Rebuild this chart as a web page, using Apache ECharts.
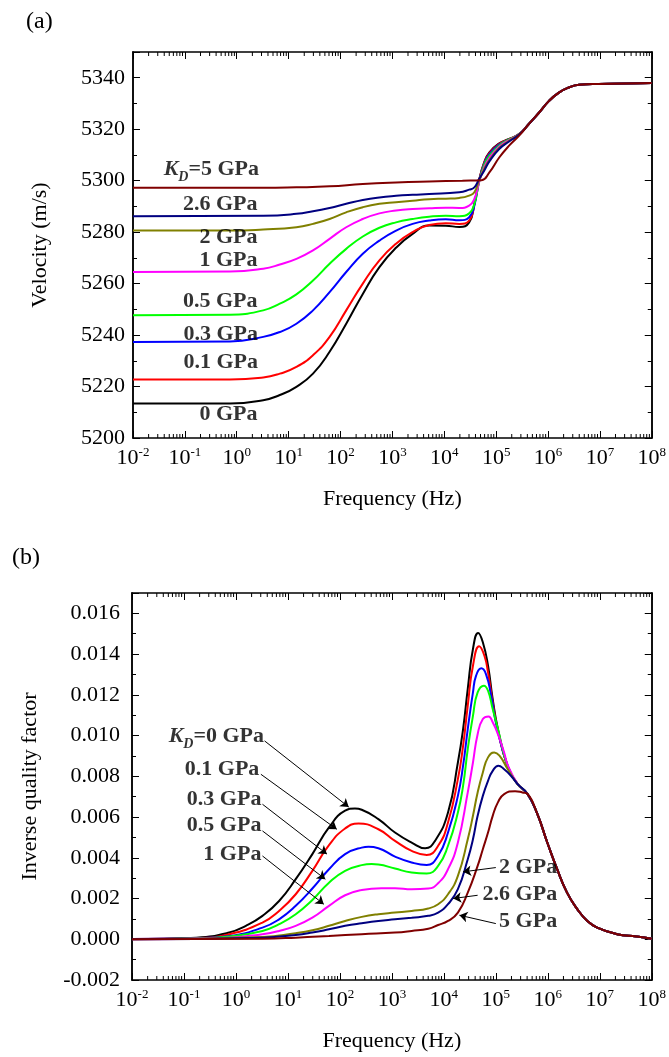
<!DOCTYPE html>
<html>
<head>
<meta charset="utf-8">
<script src="https://cdn.jsdelivr.net/npm/echarts@6/dist/echarts.min.js"></script>
<style>
html, body { margin: 0; padding: 0; background: #fff; }
#chart { width: 669px; height: 1057px; }
</style>
</head>
<body>
<div id="chart"></div>
<script>
// ---- panel (a): velocity (m/s), points are [log10(frequency), value] ----
var velTail = [[5.63, 5322], [5.83, 5326.5], [6.02, 5331], [6.21, 5334.2], [6.40, 5336.2], [6.60, 5337.3], [6.98, 5337.6], [8, 5338]];

var vel0  = [[-2, 5213.4], [-0.13, 5213.4], [0.51, 5214.7], [0.83, 5216.7], [1.15, 5219.9], [1.47, 5225], [1.79, 5233.5],
             [2.11, 5244.4], [2.43, 5256], [2.75, 5266.4], [3.07, 5273.9], [3.39, 5279.3], [3.71, 5282.6], [4.03, 5282.5],
             [4.29, 5282.0], [4.48, 5283.8], [4.58, 5291], [4.67, 5300], [4.77, 5307.1], [4.87, 5311], [5.06, 5314.5],
             [5.25, 5316.2], [5.44, 5318.1]];
var vel01 = [[-2, 5222.7], [-0.13, 5222.7], [0.51, 5223.5], [0.83, 5225], [1.15, 5227.6], [1.47, 5232.2], [1.79, 5239.3],
             [2.11, 5249.6], [2.43, 5260], [2.75, 5269], [3.07, 5275.5], [3.39, 5280], [3.71, 5282.8], [4.03, 5283.5],
             [4.29, 5283.2], [4.48, 5284.5], [4.58, 5290.7], [4.67, 5300], [4.77, 5306.9], [4.87, 5310.7], [5.06, 5314.3],
             [5.25, 5316.1], [5.44, 5318]];
var vel03 = [[-2, 5237.3], [-0.13, 5237.5], [0.51, 5239.3], [0.83, 5241.2], [1.15, 5244.4], [1.47, 5249.6], [1.79, 5256.7],
             [2.11, 5264.5], [2.43, 5271.6], [2.75, 5276.7], [3.07, 5280.6], [3.39, 5283.2], [3.71, 5284.5], [4.03, 5285],
             [4.29, 5284.6], [4.48, 5285.8], [4.58, 5290.3], [4.67, 5299.6], [4.77, 5306.5], [4.87, 5310.3], [5.06, 5314],
             [5.25, 5316], [5.44, 5318]];
var vel05 = [[-2, 5247.7], [-0.13, 5247.9], [0.51, 5249.6], [0.83, 5252.2], [1.15, 5255.8], [1.47, 5261.2], [1.79, 5267.7],
             [2.11, 5273.5], [2.43, 5278.3], [2.75, 5281.7], [3.07, 5283.8], [3.39, 5285.1], [3.71, 5286], [4.03, 5286.4],
             [4.29, 5286.2], [4.48, 5287.3], [4.58, 5291], [4.67, 5299.3], [4.77, 5306.1], [4.87, 5309.7], [5.06, 5313.7],
             [5.25, 5316], [5.44, 5318]];
var vel1  = [[-2, 5264.5], [-0.13, 5264.7], [0.51, 5265.8], [0.83, 5267.4], [1.15, 5269.6], [1.47, 5272.9], [1.79, 5277.4],
             [2.11, 5281.9], [2.43, 5285.1], [2.75, 5287.3], [3.07, 5288.4], [3.39, 5289], [3.71, 5289.3], [4.03, 5289.5],
             [4.29, 5289.4], [4.48, 5290.3], [4.58, 5292.9], [4.67, 5299.3], [4.77, 5305.2], [4.87, 5308.8], [5.06, 5313.2],
             [5.25, 5315.8], [5.44, 5318]];
var vel2  = [[-2, 5280.6], [-0.13, 5280.6], [0.51, 5281], [1.15, 5281.9], [1.47, 5283.2], [1.79, 5285.1], [2.11, 5287.7],
             [2.43, 5289.7], [2.75, 5291], [3.07, 5291.6], [3.39, 5292.2], [3.71, 5292.8], [4.03, 5293], [4.29, 5293.3],
             [4.48, 5294.2], [4.58, 5295.5], [4.67, 5300], [4.77, 5304.5], [4.87, 5308], [5.06, 5312.7], [5.25, 5315.5],
             [5.44, 5318]];
var vel26 = [[-2, 5286.2], [0.51, 5286.4], [1.15, 5287.1], [1.47, 5288.1], [1.79, 5289.4], [2.11, 5291], [2.43, 5292.5],
             [2.75, 5293.5], [3.07, 5294.1], [3.39, 5294.5], [3.71, 5294.8], [4.29, 5295.5], [4.48, 5296.5], [4.58, 5297.4],
             [4.67, 5300.6], [4.77, 5303.9], [4.87, 5307.5], [5.06, 5312.3], [5.25, 5315.2], [5.44, 5317.8]];
var vel5  = [[-2, 5297.2], [0.51, 5297.2], [1.15, 5297.4], [1.79, 5297.8], [2.43, 5298.7], [3.07, 5299.3], [3.71, 5299.7],
             [4.35, 5300], [4.72, 5300.2], [4.87, 5303.2], [5.06, 5309], [5.25, 5313.6], [5.44, 5317.4]];

// ---- panel (b): inverse quality factor, [log10(frequency), value] ----
var qTail = [[5.61, 0.00713], [5.80, 0.00614], [5.99, 0.00475], [6.18, 0.00344], [6.37, 0.00229], [6.57, 0.00147],
             [6.76, 0.00090], [6.95, 0.00057], [7.33, 0.00025], [7.71, 0.00013], [8.0, 0.00003]];

var q0  = [[-2, 0.00001], [-1.4, 0.00003], [-0.76, 0.00008], [-0.13, 0.00033], [0.19, 0.00066], [0.51, 0.00115], [0.83, 0.00188],
           [1.15, 0.00295], [1.47, 0.00418], [1.79, 0.00549], [2.1, 0.00631], [2.29, 0.00642], [2.42, 0.00636], [2.74, 0.0059],
           [3.06, 0.00524], [3.38, 0.00475], [3.64, 0.00447], [3.83, 0.00483], [4.08, 0.00622], [4.27, 0.00868], [4.37, 0.01032],
           [4.46, 0.01229], [4.56, 0.01425], [4.66, 0.01504], [4.75, 0.01458], [4.85, 0.01343], [4.94, 0.01179], [5.04, 0.01032],
           [5.23, 0.00848], [5.42, 0.00762]];
var q01 = [[-2, 0.00001], [-0.76, 0.00006], [-0.13, 0.00025], [0.51, 0.00082], [0.83, 0.00139], [1.15, 0.00221], [1.47, 0.00336],
           [1.79, 0.00462], [2.1, 0.00544], [2.36, 0.00568], [2.74, 0.0054], [3.06, 0.00483], [3.38, 0.00434], [3.67, 0.00414],
           [3.89, 0.00459], [4.08, 0.00573], [4.27, 0.00786], [4.37, 0.0095], [4.46, 0.01147], [4.56, 0.01343], [4.68, 0.01438],
           [4.78, 0.01392], [4.85, 0.0131], [4.94, 0.01163], [5.04, 0.01024], [5.23, 0.00848], [5.42, 0.00762]];
var q03 = [[-2, 0.00001], [-0.76, 0.00005], [-0.13, 0.00016], [0.51, 0.00057], [0.83, 0.00098], [1.15, 0.00164], [1.47, 0.00249],
           [1.79, 0.00344], [2.1, 0.00418], [2.42, 0.0045], [2.55, 0.00454], [2.74, 0.00447], [3.06, 0.00406], [3.38, 0.00377],
           [3.67, 0.00365], [3.89, 0.0041], [4.08, 0.00524], [4.27, 0.00704], [4.37, 0.00852], [4.46, 0.01032], [4.56, 0.01212],
           [4.62, 0.01294], [4.72, 0.0133], [4.81, 0.01302], [4.91, 0.01196], [5.0, 0.01065], [5.23, 0.00848], [5.42, 0.00762]];
var q05 = [[-2, 0.00001], [-0.76, 0.00004], [-0.13, 0.00013], [0.51, 0.00041], [0.83, 0.00074], [1.15, 0.00123], [1.47, 0.00193],
           [1.79, 0.00278], [2.1, 0.00336], [2.42, 0.00364], [2.61, 0.00369], [2.74, 0.00367], [3.06, 0.00347], [3.38, 0.00328],
           [3.67, 0.00323], [3.89, 0.0036], [4.08, 0.00459], [4.27, 0.00622], [4.37, 0.00753], [4.46, 0.00934], [4.56, 0.01097],
           [4.65, 0.01212], [4.77, 0.01245], [4.85, 0.0122], [4.94, 0.0113], [5.04, 0.01032], [5.23, 0.00848], [5.42, 0.00762]];
var q1  = [[-2, 0.0], [-0.13, 0.00008], [0.51, 0.00025], [0.83, 0.00041], [1.15, 0.00066], [1.47, 0.00106], [1.79, 0.00164],
           [2.1, 0.00216], [2.42, 0.00242], [2.8, 0.00251], [3.06, 0.00251], [3.38, 0.00246], [3.7, 0.00249], [3.89, 0.00275],
           [4.08, 0.00344], [4.27, 0.00475], [4.46, 0.00721], [4.56, 0.00868], [4.65, 0.01007], [4.75, 0.01081], [4.86, 0.01094],
           [4.94, 0.01065], [5.04, 0.01007], [5.16, 0.00917], [5.23, 0.00855], [5.42, 0.00762]];
var q2  = [[-2, 0.0], [0.51, 0.00011], [1.15, 0.0003], [1.47, 0.00044], [1.79, 0.00066], [2.1, 0.0009], [2.42, 0.0011],
           [2.74, 0.00123], [3.06, 0.00131], [3.38, 0.00139], [3.7, 0.00151], [3.89, 0.00172], [4.08, 0.00221], [4.27, 0.00311],
           [4.46, 0.00491], [4.56, 0.00606], [4.65, 0.00721], [4.75, 0.00819], [4.85, 0.00893], [4.97, 0.00917], [5.07, 0.00901],
           [5.23, 0.00835], [5.42, 0.00762]];
var q26 = [[-2, 0.0], [0.51, 0.00008], [1.15, 0.00021], [1.47, 0.00033], [1.79, 0.00049], [2.1, 0.00066], [2.42, 0.00079],
           [2.74, 0.0009], [3.06, 0.00098], [3.38, 0.00106], [3.7, 0.00115], [3.89, 0.00131], [4.08, 0.00172], [4.27, 0.00246],
           [4.46, 0.00393], [4.56, 0.00491], [4.65, 0.00606], [4.75, 0.00704], [4.85, 0.00778], [4.94, 0.00827], [5.05, 0.00852],
           [5.16, 0.00835], [5.29, 0.00803], [5.42, 0.00762]];
var q5  = [[-2, 0.0], [0.51, 0.00003], [1.15, 0.00008], [1.79, 0.00016], [2.42, 0.00025], [3.06, 0.00033], [3.38, 0.00041],
           [3.7, 0.00052], [3.89, 0.0007], [4.08, 0.0009], [4.27, 0.00131], [4.46, 0.00229], [4.65, 0.0036], [4.75, 0.00442],
           [4.85, 0.00524], [4.94, 0.00606], [5.04, 0.00672], [5.16, 0.00713], [5.37, 0.00727], [5.51, 0.00721]];

var kdNames = ['0 GPa', '0.1 GPa', '0.3 GPa', '0.5 GPa', '1 GPa', '2 GPa', '2.6 GPa', '5 GPa'];
var colors  = ['#000000', '#ff0000', '#0000ff', '#00ff00', '#ff00ff', '#808000', '#000080', '#800000'];
var velSets = [vel0, vel01, vel03, vel05, vel1, vel2, vel26, vel5];
var qSets   = [q0, q01, q03, q05, q1, q2, q26, q5];

// curve labels: [text, log10(f) of right edge, value]
var notesA = [['K_D=5 GPa', 0.43, 5304.3], ['2.6 GPa', 0.40, 5290.9], ['2 GPa', 0.40, 5278.0], ['1 GPa', 0.40, 5269.0],
              ['0.5 GPa', 0.40, 5253.3], ['0.3 GPa', 0.41, 5240.1], ['0.1 GPa', 0.41, 5229.3], ['0 GPa', 0.40, 5209.1]];
var notesB = [['K_D=0 GPa', 0.54, 0.00995], ['0.1 GPa', 0.45, 0.00835], ['0.3 GPa', 0.49, 0.00688], ['0.5 GPa', 0.49, 0.00558],
              ['1 GPa', 0.49, 0.00418], ['2 GPa', 6.18, 0.00351], ['2.6 GPa', 6.18, 0.00221], ['5 GPa', 6.18, 0.00088]];
// arrows in panel (b): [fromExp, fromQ, toExp, toQ]
var arrowsB = [[0.55, 0.00974, 2.17, 0.00649], [0.48, 0.0081, 1.94, 0.0054], [0.51, 0.00663, 1.75, 0.00418],
               [0.51, 0.00532, 1.72, 0.00295], [0.51, 0.00409, 1.69, 0.00172], [5.00, 0.00352, 4.37, 0.00331],
               [4.65, 0.00216, 4.18, 0.00200], [5.00, 0.00077, 4.30, 0.00118]];

var decades = [-2, -1, 0, 1, 2, 3, 4, 5, 6, 7];
var minorMults = [2, 3, 4, 5, 6, 7, 8, 9];

var FONT = 'Liberation Serif';
var VEL_MIN = 5200, VEL_MAX = 5350;
var Q_MIN = -0.002, Q_MAX = 0.017;

function f10(e) { return Math.pow(10, e); }

var minorFreqs = [];
decades.forEach(function (d) {
  minorMults.forEach(function (m) { minorFreqs.push(m * f10(d)); });
});

function decadeLabel(v) {
  var e = Math.round(Math.log(v) / Math.LN10);
  return '{b|10}{s|' + e + '}';
}

function noteText(s) {
  if (s.indexOf('K_D=') === 0) return '{k|K}{d|D}{b|' + s.slice(3) + '}';
  return '{b|' + s + '}';
}

var noteRich = {
  b: { fontFamily: FONT, fontWeight: 'bold', fontSize: 22, color: '#000' },
  k: { fontFamily: FONT, fontWeight: 'bold', fontStyle: 'italic', fontSize: 22, color: '#000' },
  d: { fontFamily: FONT, fontWeight: 'bold', fontStyle: 'italic', fontSize: 14, color: '#000', padding: [16, 0, 0, 0] }
};

function xAxes(gi) {
  var base = {
    gridIndex: gi, type: 'log', logBase: 10, min: 0.01, max: 1e8, interval: 1,
    splitLine: { show: false },
    axisLine: { onZero: false, lineStyle: { color: '#000', width: 1.5 } },
    axisTick: { inside: true, length: 7, lineStyle: { color: '#000', width: 1 } }
  };
  return [
    Object.assign({}, base, {
      position: 'bottom', name: 'Frequency (Hz)', nameLocation: 'middle', nameGap: 50,
      nameTextStyle: { fontFamily: FONT, fontSize: 22, color: '#000' },
      axisLabel: {
        margin: 8, formatter: decadeLabel,
        rich: {
          b: { fontFamily: FONT, fontSize: 22, color: '#000' },
          s: { fontFamily: FONT, fontSize: 13, color: '#000', padding: [0, 0, 12, 0] }
        }
      }
    }),
    Object.assign({}, base, { position: 'top', axisLabel: { show: false } })
  ];
}

function yAxes(gi, min, max, major, minor, fmt, name, gap, margin) {
  var base = {
    gridIndex: gi, type: 'value', min: min, max: max,
    splitLine: { show: false },
    axisLine: { show: true, onZero: false, lineStyle: { color: '#000', width: 1.5 } }
  };
  var tickMajor = { inside: true, length: 7, lineStyle: { color: '#000', width: 1 } };
  var tickMinor = { inside: true, length: 4, lineStyle: { color: '#000', width: 1 } };
  return [
    Object.assign({}, base, {
      position: 'left', interval: major, axisTick: tickMajor,
      name: name, nameLocation: 'middle', nameGap: gap,
      nameTextStyle: { fontFamily: FONT, fontSize: 22, color: '#000' },
      axisLabel: {
        margin: margin, fontFamily: FONT, fontSize: 22, color: '#000',
        formatter: function (v) { return v > max - major / 2 ? '' : fmt(v); }
      }
    }),
    Object.assign({}, base, { position: 'left', interval: minor, axisTick: tickMinor, axisLabel: { show: false } }),
    Object.assign({}, base, { position: 'right', interval: major, axisTick: tickMajor, axisLabel: { show: false } }),
    Object.assign({}, base, { position: 'right', interval: minor, axisTick: tickMinor, axisLabel: { show: false } })
  ];
}

function minorTickSeries(xi, yi, lo, hi) {
  return {
    type: 'custom', xAxisIndex: xi, yAxisIndex: yi, silent: true, clip: false, z: 10,
    data: minorFreqs.map(function (f) { return [f, lo]; }),
    renderItem: function (params, api) {
      var p = api.coord([api.value(0), lo]);
      var q = api.coord([api.value(0), hi]);
      return {
        type: 'group', children: [
          { type: 'line', shape: { x1: p[0], y1: p[1], x2: p[0], y2: p[1] - 4 }, style: { stroke: '#000', lineWidth: 1 } },
          { type: 'line', shape: { x1: q[0], y1: q[1], x2: q[0], y2: q[1] + 4 }, style: { stroke: '#000', lineWidth: 1 } }
        ]
      };
    }
  };
}

function noteSeries(xi, yi, notes) {
  return {
    type: 'scatter', xAxisIndex: xi, yAxisIndex: yi, silent: true, symbolSize: 0, z: 20,
    data: notes.map(function (n) {
      return { value: [f10(n[1]), n[2]], label: { formatter: noteText(n[0]) } };
    }),
    label: { show: true, position: 'left', distance: 0, rich: noteRich }
  };
}

function toPoints(vals, tail) {
  var pts = vals.map(function (p) { return [f10(p[0]), p[1]]; });
  var last = vals[vals.length - 1][0];
  tail.forEach(function (t) { if (t[0] > last) pts.push([f10(t[0]), t[1]]); });
  return pts;
}

var series = [];
velSets.forEach(function (vals, i) {
  series.push({
    name: 'a ' + kdNames[i], type: 'line', xAxisIndex: 0, yAxisIndex: 0, data: toPoints(vals, velTail),
    showSymbol: false, smooth: 0.5, lineStyle: { color: colors[i], width: 2 }, itemStyle: { color: colors[i] }
  });
});
qSets.forEach(function (vals, i) {
  series.push({
    name: 'b ' + kdNames[i], type: 'line', xAxisIndex: 2, yAxisIndex: 4, data: toPoints(vals, qTail),
    showSymbol: false, smooth: 0.5, lineStyle: { color: colors[i], width: 2 }, itemStyle: { color: colors[i] }
  });
});
series.push(minorTickSeries(0, 0, VEL_MIN, VEL_MAX));
series.push(minorTickSeries(2, 4, Q_MIN, Q_MAX));
series.push(noteSeries(0, 0, notesA));
series.push(noteSeries(2, 4, notesB));
series.push({
  type: 'lines', coordinateSystem: 'cartesian2d', xAxisIndex: 2, yAxisIndex: 4, silent: true, z: 15,
  symbol: ['none', 'arrow'], symbolSize: 8,
  lineStyle: { color: '#000', width: 1, opacity: 1, curveness: 0 },
  data: arrowsB.map(function (a) { return { coords: [[f10(a[0]), a[1]], [f10(a[2]), a[3]]] }; })
});

var chart = echarts.init(document.getElementById('chart'));
chart.setOption({
  animation: false,
  backgroundColor: '#fff',
  grid: [
    { left: 133, right: 16, top: 52, height: 386 },
    { left: 132, right: 14, top: 593, height: 387 }
  ],
  xAxis: xAxes(0).concat(xAxes(1)),
  yAxis: yAxes(0, VEL_MIN, VEL_MAX, 20, 10, function (v) { return String(v); }, 'Velocity (m/s)', 82, 8)
    .concat(yAxes(1, Q_MIN, Q_MAX, 0.002, 0.001, function (v) { return v.toFixed(3); }, 'Inverse quality factor', 91, 12)),
  graphic: [
    { type: 'text', left: 26, top: 10, style: { text: '(a)', font: '24px "Liberation Serif"', fill: '#000' } },
    { type: 'text', left: 12, top: 546, style: { text: '(b)', font: '24px "Liberation Serif"', fill: '#000' } }
  ],
  series: series
});
</script>
</body>
</html>
